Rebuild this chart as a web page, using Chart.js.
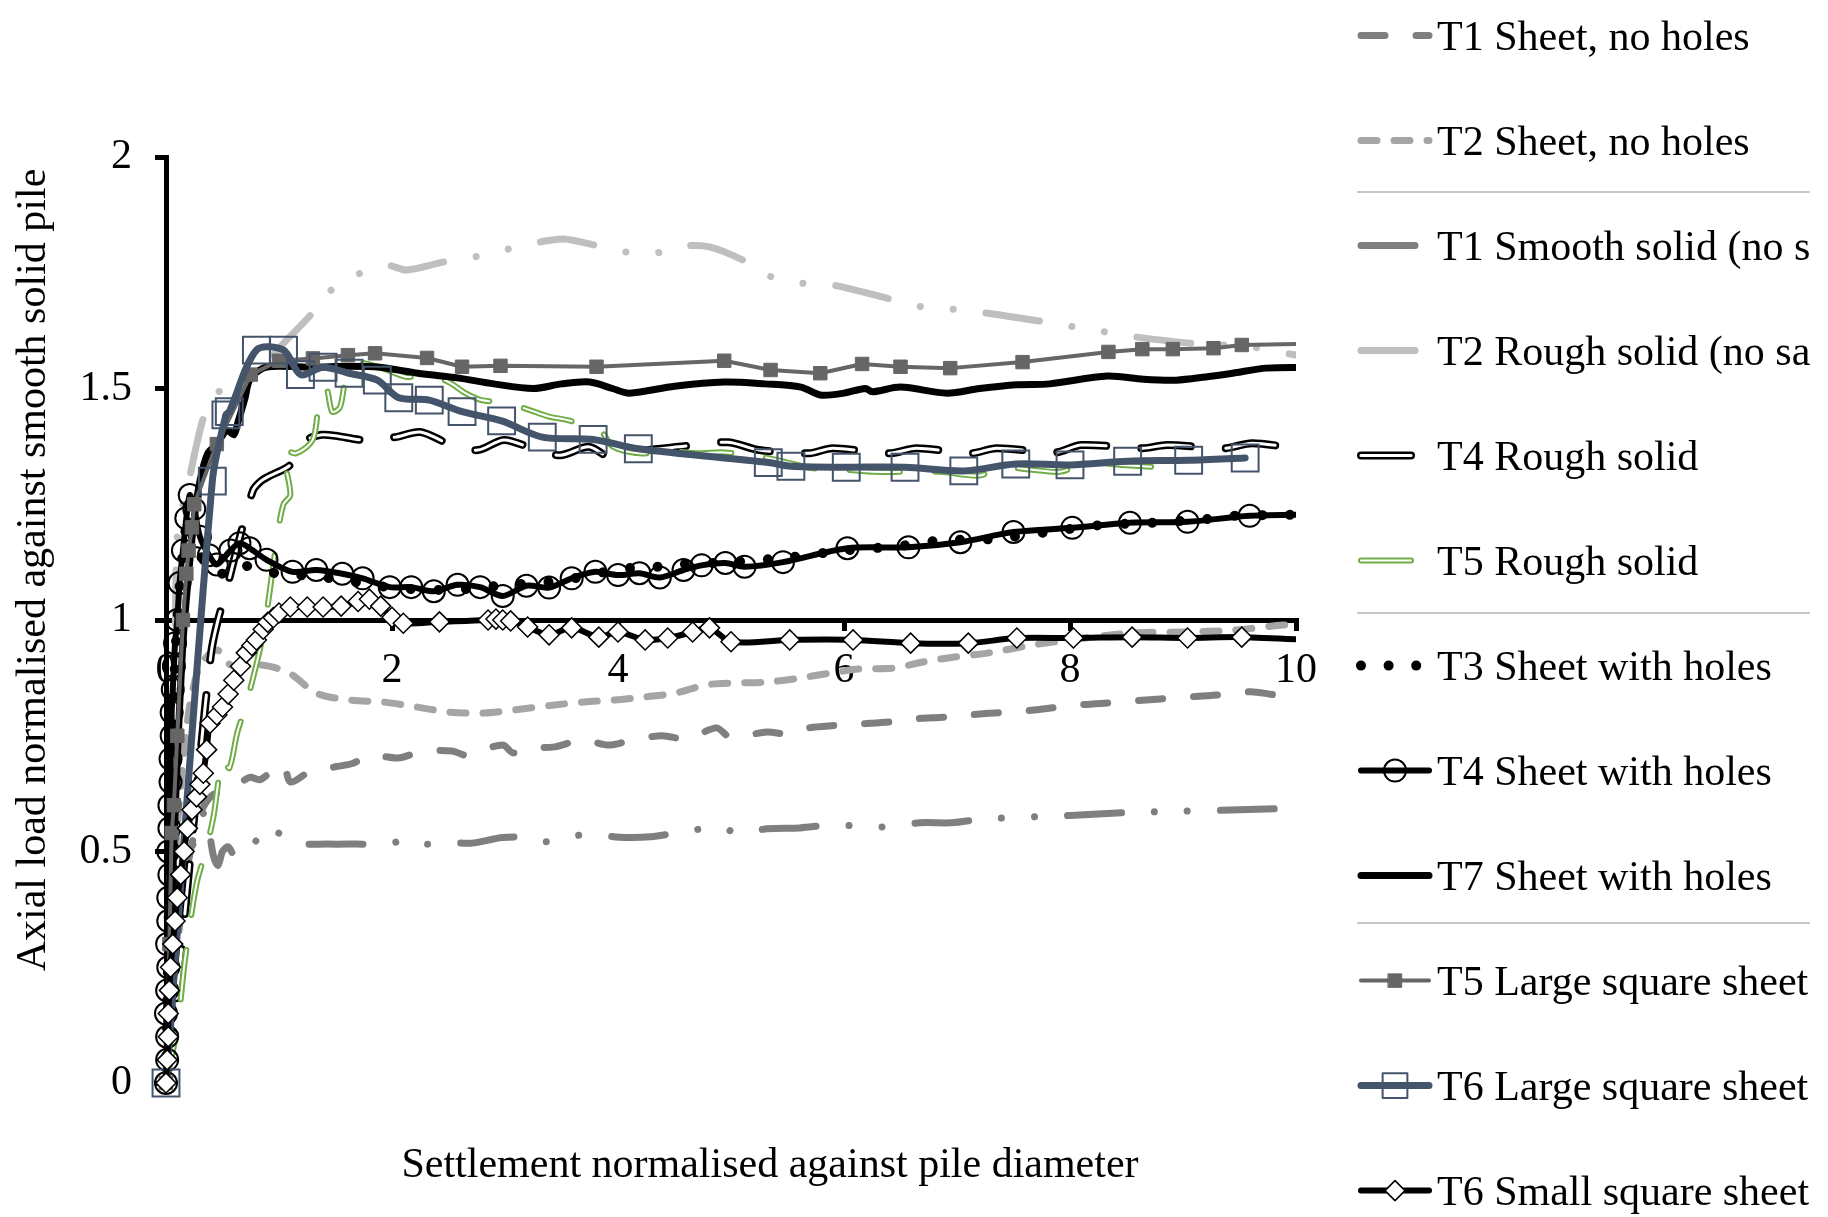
<!DOCTYPE html>
<html>
<head>
<meta charset="utf-8">
<title>Axial load against settlement</title>
<script src="https://cdn.jsdelivr.net/npm/chart.js@4.4.1/dist/chart.umd.min.js"></script>
<style>
    html, body { margin: 0; padding: 0; background: #fff; }
    #wrap { width: 1828px; height: 1217px; position: relative; }
</style>
</head>
<body>
<div id="wrap"><canvas id="pileChart"></canvas></div>
<script>
const xTickValues = [0, 2, 4, 6, 8, 10];
const yTickValues = [0, 0.5, 1, 1.5, 2];
const xTitle = 'Settlement normalised against pile diameter';
const yTitle = 'Axial load normalised against smooth solid pile';
const seriesNames = [
    'T1 Sheet, no holes', 'T2 Sheet, no holes', 'T1 Smooth solid (no sand)', 'T2 Rough solid (no sand)',
    'T4 Rough solid', 'T5 Rough solid', 'T3 Sheet with holes', 'T4 Sheet with holes', 'T7 Sheet with holes',
    'T5 Large square sheet', 'T6 Large square sheet', 'T6 Small square sheet'
];

// [settlement / D, load / smooth solid] pairs
const t1SheetNoHoles = [[0,0],[0.05,0.15],[0.1,0.3],[0.2,0.48],[0.3,0.58],[0.4,0.62],[0.5,0.63],[0.61,0.64],[0.74,0.66],[0.83,0.655],[0.92,0.67],[1.04,0.687],[1.1,0.65],[1.27,0.672],[1.5,0.683],[1.65,0.69],[1.81,0.708],[2.05,0.702],[2.27,0.716],[2.53,0.717],[2.65,0.708],[2.73,0.713],[2.98,0.73],[3.07,0.713],[3.19,0.723],[3.44,0.726],[3.68,0.741],[3.92,0.73],[4.13,0.741],[4.39,0.75],[4.61,0.743],[4.87,0.767],[4.98,0.748],[5.07,0.748],[5.32,0.758],[5.5,0.754],[5.69,0.767],[5.91,0.772],[6.17,0.776],[6.41,0.78],[6.66,0.787],[6.89,0.79],[7.15,0.796],[7.38,0.8],[7.7,0.806],[8.0,0.815],[8.3,0.82],[8.6,0.826],[9.0,0.833],[9.3,0.838],[9.6,0.845],[9.85,0.838],[10.2,0.842]];
const t2SheetNoHoles = [[0,0],[0.05,0.3],[0.1,0.55],[0.2,0.8],[0.3,0.9],[0.45,0.935],[0.57,0.903],[0.7,0.9],[0.83,0.903],[0.98,0.896],[1.12,0.881],[1.33,0.842],[1.63,0.827],[1.92,0.823],[2.22,0.812],[2.51,0.801],[2.81,0.799],[3.09,0.806],[3.42,0.816],[3.7,0.823],[3.96,0.827],[4.24,0.834],[4.51,0.842],[4.78,0.86],[5.05,0.864],[5.32,0.866],[5.59,0.874],[5.87,0.885],[6.13,0.894],[6.44,0.896],[6.71,0.91],[6.98,0.92],[7.28,0.929],[7.67,0.946],[8.1,0.96],[8.56,0.972],[9.0,0.974],[9.44,0.978],[9.89,0.989],[10.2,0.992]];
const t1SmoothSolid = [[0,0],[0.05,0.15],[0.1,0.3],[0.2,0.47],[0.3,0.57],[0.35,0.585],[0.38,0.55],[0.42,0.49],[0.46,0.47],[0.5,0.5],[0.55,0.51],[0.61,0.49],[0.68,0.5],[0.77,0.525],[0.88,0.508],[0.98,0.54],[1.16,0.518],[1.43,0.516],[1.69,0.516],[1.96,0.516],[2.16,0.527],[2.31,0.516],[2.45,0.52],[2.7,0.518],[2.98,0.53],[3.24,0.53],[3.36,0.521],[3.55,0.53],[3.75,0.538],[4.01,0.531],[4.29,0.532],[4.56,0.542],[4.91,0.553],[5.05,0.54],[5.32,0.549],[5.61,0.551],[5.88,0.557],[6.15,0.555],[6.41,0.553],[6.67,0.562],[6.95,0.562],[7.22,0.57],[7.38,0.572],[7.7,0.575],[8.0,0.578],[8.5,0.584],[9.0,0.587],[9.5,0.59],[10.2,0.595]];
const t2RoughSolid = [[0,0],[0.04,0.5],[0.08,0.95],[0.1,1.18],[0.15,1.25],[0.2,1.3],[0.35,1.45],[0.5,1.5],[0.75,1.53],[0.9,1.56],[1.05,1.6],[1.27,1.656],[1.45,1.71],[1.7,1.747],[1.95,1.766],[2.13,1.756],[2.45,1.773],[2.73,1.784],[3.01,1.8],[3.3,1.816],[3.52,1.823],[3.79,1.81],[4.06,1.795],[4.34,1.793],[4.6,1.808],[4.81,1.806],[5.1,1.778],[5.34,1.743],[5.61,1.728],[5.89,1.724],[6.38,1.695],[6.65,1.678],[6.93,1.672],[7.2,1.665],[7.72,1.646],[7.99,1.635],[8.27,1.624],[8.53,1.613],[9.06,1.598],[9.6,1.59],[10.0,1.572],[10.2,1.565]];
const t4RoughSolid = [[0,0],[0.1,0.2],[0.2,0.45],[0.3,0.7],[0.4,0.93],[0.45,0.99],[0.55,1.08],[0.64,1.166],[0.77,1.28],[0.84,1.3],[0.9,1.309],[1.1,1.335],[1.25,1.389],[1.38,1.4],[1.5,1.398],[1.74,1.389],[2.03,1.395],[2.25,1.406],[2.51,1.38],[2.76,1.367],[2.99,1.389],[3.25,1.37],[3.49,1.356],[3.74,1.374],[3.93,1.352],[4.2,1.365],[4.54,1.374],[4.97,1.384],[5.25,1.367],[5.69,1.36],[5.9,1.371],[6.4,1.36],[6.64,1.371],[7.12,1.36],[7.35,1.371],[7.87,1.362],[8.1,1.378],[8.64,1.371],[8.86,1.378],[9.37,1.371],[9.61,1.382],[10.0,1.372],[10.2,1.375]];
const t5RoughSolid = [[0,0],[0.1,0.12],[0.17,0.27],[0.27,0.43],[0.35,0.5],[0.42,0.575],[0.5,0.7],[0.56,0.68],[0.63,0.756],[0.72,0.827],[0.86,0.97],[0.95,1.12],[0.99,1.19],[1.04,1.25],[1.1,1.27],[1.06,1.33],[1.03,1.37],[1.15,1.36],[1.3,1.39],[1.36,1.48],[1.42,1.5],[1.47,1.45],[1.54,1.46],[1.6,1.53],[1.7,1.555],[1.9,1.545],[2.13,1.525],[2.3,1.53],[2.5,1.514],[2.65,1.49],[2.79,1.475],[2.99,1.47],[3.2,1.455],[3.38,1.44],[3.58,1.43],[3.86,1.404],[3.95,1.375],[4.19,1.36],[4.45,1.365],[4.71,1.36],[4.94,1.362],[5.28,1.352],[5.5,1.34],[5.72,1.328],[6.0,1.325],[6.25,1.32],[6.53,1.32],[6.85,1.32],[7.2,1.312],[7.38,1.33],[7.65,1.325],[7.91,1.32],[8.15,1.339],[8.45,1.335],[8.77,1.33]];
const t3SheetHoles = [[0,0],[0.02,0.3],[0.04,0.6],[0.07,0.85],[0.1,1.0],[0.15,1.15],[0.2,1.22],[0.25,1.18],[0.35,1.12],[0.5,1.1],[0.65,1.12],[0.77,1.112],[1.0,1.1],[1.3,1.095],[1.6,1.085],[2.0,1.07],[2.5,1.065],[3.0,1.075],[3.5,1.085],[3.8,1.1],[4.1,1.112],[4.34,1.115],[4.53,1.12],[5.0,1.125],[5.5,1.135],[6.0,1.15],[6.5,1.16],[6.85,1.172],[7.32,1.175],[7.8,1.19],[8.27,1.205],[8.73,1.21],[9.21,1.218],[9.44,1.225],[9.92,1.227],[10.2,1.229]];
const t4SheetHoles = [[0,0],[0.01,0.05],[0.01,0.1],[0.0,0.15],[0.01,0.2],[0.02,0.25],[0.01,0.3],[0.02,0.35],[0.02,0.4],[0.03,0.45],[0.02,0.5],[0.03,0.55],[0.03,0.6],[0.04,0.65],[0.04,0.7],[0.05,0.75],[0.05,0.8],[0.06,0.85],[0.07,0.9],[0.08,0.95],[0.1,1.0],[0.12,1.08],[0.15,1.15],[0.18,1.22],[0.21,1.27],[0.25,1.24],[0.3,1.18],[0.38,1.14],[0.45,1.12],[0.57,1.15],[0.65,1.166],[0.74,1.155],[0.89,1.13],[1.12,1.104],[1.33,1.108],[1.56,1.1],[1.74,1.09],[1.98,1.071],[2.17,1.071],[2.37,1.062],[2.58,1.076],[2.78,1.071],[2.98,1.052],[3.19,1.074],[3.39,1.07],[3.59,1.09],[3.8,1.104],[4.0,1.097],[4.19,1.101],[4.37,1.092],[4.58,1.108],[4.74,1.118],[4.95,1.123],[5.12,1.115],[5.46,1.125],[6.03,1.155],[6.57,1.157],[7.03,1.168],[7.5,1.19],[8.02,1.199],[8.53,1.21],[9.04,1.212],[9.59,1.225],[10.3,1.228]];
const t7SheetHoles = [[0,0],[0.03,0.2],[0.06,0.45],[0.1,0.7],[0.15,0.95],[0.2,1.1],[0.25,1.22],[0.3,1.3],[0.37,1.36],[0.45,1.38],[0.54,1.41],[0.6,1.4],[0.64,1.43],[0.7,1.48],[0.74,1.518],[0.86,1.544],[1.0,1.548],[1.3,1.546],[1.6,1.548],[1.89,1.546],[2.23,1.533],[2.58,1.523],[2.9,1.51],[3.25,1.5],[3.5,1.51],[3.75,1.514],[3.95,1.5],[4.1,1.49],[4.5,1.505],[4.94,1.514],[5.3,1.51],[5.62,1.503],[5.79,1.486],[6.0,1.49],[6.19,1.5],[6.25,1.493],[6.5,1.503],[6.91,1.49],[7.2,1.5],[7.53,1.508],[7.82,1.51],[8.33,1.527],[8.65,1.52],[8.94,1.518],[9.2,1.525],[9.44,1.533],[9.74,1.544],[10.2,1.545]];
const t5LargeSquare = [[0,0],[0.03,0.3],[0.05,0.54],[0.07,0.6],[0.1,0.75],[0.15,1.0],[0.18,1.1],[0.2,1.15],[0.23,1.2],[0.25,1.25],[0.45,1.38],[0.75,1.53],[1.0,1.56],[1.3,1.565],[1.61,1.572],[1.85,1.576],[2.31,1.566],[2.62,1.547],[2.96,1.549],[3.81,1.547],[4.94,1.56],[5.35,1.54],[5.79,1.533],[6.16,1.553],[6.5,1.547],[6.94,1.544],[7.58,1.557],[8.34,1.579],[8.64,1.585],[8.91,1.585],[9.27,1.587],[9.52,1.594],[10.4,1.598]];
const t6LargeSquare = [[0,0],[0.41,1.3],[0.53,1.443],[0.56,1.45],[0.8,1.583],[1.04,1.583],[1.19,1.53],[1.39,1.546],[1.62,1.533],[1.87,1.518],[2.06,1.48],[2.33,1.475],[2.62,1.45],[2.97,1.43],[3.33,1.395],[3.78,1.39],[4.18,1.37],[5.33,1.34],[5.53,1.332],[6.02,1.33],[6.54,1.33],[7.06,1.322],[7.52,1.337],[8.0,1.335],[8.51,1.343],[9.05,1.345],[9.55,1.35]];
const t6SmallSquare = [[0,0],[0.01,0.05],[0.02,0.1],[0.02,0.15],[0.03,0.2],[0.04,0.25],[0.06,0.3],[0.08,0.35],[0.1,0.4],[0.13,0.45],[0.16,0.5],[0.19,0.55],[0.23,0.59],[0.27,0.618],[0.3,0.645],[0.33,0.669],[0.36,0.72],[0.39,0.777],[0.45,0.795],[0.5,0.812],[0.55,0.84],[0.6,0.87],[0.66,0.9],[0.71,0.929],[0.76,0.945],[0.8,0.957],[0.86,0.98],[0.9,0.995],[0.95,1.005],[1.0,1.015],[1.1,1.028],[1.25,1.028],[1.39,1.028],[1.55,1.03],[1.7,1.04],[1.8,1.045],[1.9,1.03],[2.0,1.006],[2.1,0.993],[2.42,0.996],[2.85,1.0],[2.92,1.002],[2.98,1.0],[3.05,0.998],[3.2,0.985],[3.39,0.968],[3.59,0.983],[3.83,0.963],[4.0,0.974],[4.24,0.957],[4.44,0.961],[4.66,0.974],[4.81,0.983],[5.0,0.953],[5.52,0.957],[6.08,0.957],[6.59,0.95],[7.1,0.95],[7.53,0.961],[8.03,0.961],[8.55,0.963],[9.04,0.961],[9.52,0.963],[10.3,0.955]];

const seriesData = [t1SheetNoHoles, t2SheetNoHoles, t1SmoothSolid, t2RoughSolid, t4RoughSolid, t5RoughSolid,
    t3SheetHoles, t4SheetHoles, t7SheetHoles, t5LargeSquare, t6LargeSquare, t6SmallSquare];

// line looks, same order as seriesNames
const looks = [
    { color: '#7f7f7f', width: 7, dash: [24, 31] },
    { color: '#a5a5a5', width: 7, dash: [16, 17] },
    { color: '#7f7f7f', width: 7, dash: [54, 33, 0.01, 33, 0.01, 33] },
    { color: '#bfbfbf', width: 7, dash: [54, 33, 0.01, 33, 0.01, 33] },
    { color: '#000000', width: 8, dash: [50, 35], inner: '#ffffff', innerWidth: 3 },
    { color: '#70ad47', width: 6, dash: [50, 35], inner: '#ffffff', innerWidth: 2 },
    { color: '#000000', width: 10, dash: [0.01, 27.6] },
    { color: '#000000', width: 6, point: 'circle', radius: 11, fill: 'rgba(0,0,0,0)', pointWidth: 2 },
    { color: '#000000', width: 7 },
    { color: '#666666', width: 4, point: 'rect', radius: 9.5, fill: '#666666', pointWidth: 1, tension: 0 },
    { color: '#44546a', width: 7, point: 'rect', radius: 19, fill: 'rgba(0,0,0,0)', pointWidth: 2 },
    { color: '#000000', width: 6, point: 'rectRot', radius: 10, fill: '#ffffff', pointWidth: 1.5 }
];

const toPoints = arr => arr.map(p => ({ x: p[0], y: p[1] }));

const datasets = [];
seriesData.forEach((arr, i) => {
    const s = looks[i];
    const ds = {
        label: seriesNames[i],
        data: toPoints(arr),
        borderColor: s.color,
        borderWidth: s.width,
        borderDash: s.dash || [],
        borderCapStyle: 'round',
        borderJoinStyle: 'round',
        tension: s.tension !== undefined ? s.tension : 0.3,
        pointRadius: s.point ? s.radius : 0,
        pointStyle: s.point || 'circle',
        pointBackgroundColor: s.fill || 'rgba(0,0,0,0)',
        pointBorderColor: s.color,
        pointBorderWidth: s.pointWidth || 1,
        fill: false,
        clip: { left: false, top: false, right: 0, bottom: false }
    };
    datasets.push(ds);
    if (s.inner) {
        // white core on top of the coloured stroke
        datasets.push(Object.assign({}, ds, {
            label: seriesNames[i] + ' core',
            data: toPoints(arr),
            borderColor: s.inner,
            borderWidth: s.innerWidth,
            pointRadius: 0
        }));
    }
});
// later series are drawn on top
datasets.forEach((d, k) => { d.order = datasets.length - k; });

const FONT = '"Liberation Serif", "Times New Roman", serif';
Chart.defaults.font.family = FONT;
Chart.defaults.font.size = 42;
Chart.defaults.color = '#000';

function drawSample(ctx, s, y) {
    const x0 = 1361, x1 = 1429;
    ctx.save();
    ctx.lineCap = 'round';
    ctx.lineJoin = 'round';
    ctx.setLineDash(s.dash || []);
    ctx.strokeStyle = s.color;
    ctx.lineWidth = s.width;
    ctx.beginPath(); ctx.moveTo(x0, y); ctx.lineTo(x1, y); ctx.stroke();
    if (s.inner) {
        ctx.strokeStyle = s.inner;
        ctx.lineWidth = s.innerWidth;
        ctx.beginPath(); ctx.moveTo(x0, y); ctx.lineTo(x1, y); ctx.stroke();
    }
    ctx.setLineDash([]);
    if (s.point) {
        ctx.fillStyle = s.fill;
        ctx.strokeStyle = s.color;
        ctx.lineWidth = s.pointWidth;
        const r = s.point === 'rect' && s.radius > 15 ? 17.5 : s.radius;
        Chart.helpers.drawPoint(ctx, { pointStyle: s.point, radius: r, rotation: 0, borderWidth: s.pointWidth }, 1395, y);
    }
    ctx.restore();
}

const sideLegend = {
    id: 'sideLegend',
    afterDraw(chart) {
        const ctx = chart.ctx;
        ctx.save();
        ctx.beginPath(); ctx.rect(1340, 0, 470, 1217); ctx.clip();
        ctx.strokeStyle = '#c8c8c8';
        ctx.lineWidth = 2;
        [192, 613, 923].forEach(y => {
            ctx.beginPath(); ctx.moveTo(1357, y); ctx.lineTo(1810, y); ctx.stroke();
        });
        ctx.font = '42px ' + FONT;
        ctx.textAlign = 'left';
        ctx.textBaseline = 'alphabetic';
        seriesNames.forEach((name, i) => {
            const y = 35.6 + i * 105.0;
            drawSample(ctx, looks[i], y);
            ctx.fillStyle = '#000';
            ctx.fillText(name, 1437, y + 14);
        });
        ctx.restore();
    }
};

const axisTitles = {
    id: 'axisTitles',
    afterDraw(chart) {
        const ctx = chart.ctx;
        ctx.save();
        ctx.fillStyle = '#000';
        ctx.font = '42px ' + FONT;
        ctx.textAlign = 'center';
        ctx.textBaseline = 'middle';
        ctx.fillText(xTitle, 770, 1166);
        ctx.translate(34, 570);
        ctx.rotate(-Math.PI / 2);
        ctx.fillText(yTitle, 0, 0);
        ctx.restore();
    }
};

new Chart(document.getElementById('pileChart').getContext('2d'), {
    type: 'line',
    data: { datasets: datasets },
    options: {
        responsive: true,
        maintainAspectRatio: false,
        animation: false,
        events: [],
        layout: { padding: { left: 0, top: 157, right: 532, bottom: 134 } },
        plugins: {
            legend: { display: false },
            title: { display: false },
            tooltip: { enabled: false }
        },
        scales: {
            x: {
                type: 'linear',
                position: { y: 1 },
                min: 0,
                max: 10,
                afterBuildTicks: s => { s.ticks = xTickValues.map(v => ({ value: v })); },
                afterFit: s => { s.paddingLeft = 0; s.paddingRight = 0; },
                grid: { drawOnChartArea: false, drawTicks: true, tickLength: 8, color: '#000', lineWidth: 5 },
                border: { display: true, color: '#000', width: 5 },
                ticks: { padding: 18, maxRotation: 0, autoSkip: false, color: '#000', callback: v => String(v) }
            },
            y: {
                type: 'linear',
                min: 0,
                max: 2,
                afterBuildTicks: s => { s.ticks = yTickValues.map(v => ({ value: v })); },
                afterFit: s => { s.width = 166; s.paddingTop = 0; s.paddingBottom = 0; },
                grid: { drawOnChartArea: false, drawTicks: true, tickLength: 11, color: '#000', lineWidth: 5 },
                border: { display: true, color: '#000', width: 5 },
                ticks: { padding: 23, autoSkip: false, color: '#000', callback: v => String(v) }
            }
        }
    },
    plugins: [sideLegend, axisTitles]
});
</script>
</body>
</html>
